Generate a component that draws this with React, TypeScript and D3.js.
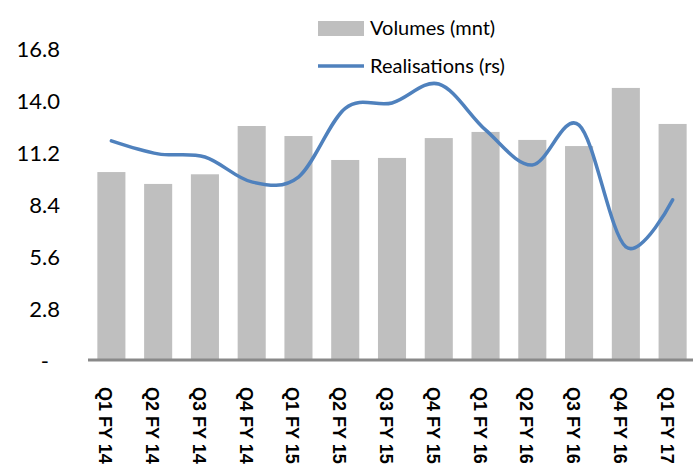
import * as d3 from "d3";

const quarters = [
  "Q1 FY 14", "Q2 FY 14", "Q3 FY 14", "Q4 FY 14",
  "Q1 FY 15", "Q2 FY 15", "Q3 FY 15", "Q4 FY 15",
  "Q1 FY 16", "Q2 FY 16", "Q3 FY 16", "Q4 FY 16", "Q1 FY 17",
];
const volumes = [10.12, 9.48, 10.0, 12.6, 12.06, 10.77, 10.88, 11.95, 12.28, 11.85, 11.52, 14.65, 12.71];
const realisations = [11.8, 11.1, 10.93, 9.59, 9.85, 13.55, 13.84, 14.86, 12.39, 10.5, 12.65, 6.09, 8.62];
const yTicks = [0, 2.8, 5.6, 8.4, 11.2, 14.0, 16.8];

const width = 693;
const height = 473;
const left = 88;
const right = 696;
const top = 48;
const bottom = 360;

const bodyFont = "Lato, 'Open Sans', sans-serif";

export default function App() {
  const x = d3.scaleBand(quarters, [left, right]).paddingInner(0.4).paddingOuter(0.2);
  const y = d3.scaleLinear([0, 16.8], [bottom, top]);
  const cx = (q: string) => (x(q) ?? 0) + x.bandwidth() / 2;

  const line = d3
    .line<number>((_, i) => cx(quarters[i]), (d) => y(d))
    .curve(d3.curveCardinal.tension(0));

  return (
    <svg
      width={width}
      height={height}
      style={{ position: "absolute", left: 0, top: 0, background: "#fff" }}
    >
      {/* bars */}
      <g fill="#bfbfbf">
        {volumes.map((v, i) => (
          <rect
            key={quarters[i]}
            x={x(quarters[i])}
            y={y(v)}
            width={x.bandwidth()}
            height={y(0) - y(v)}
          />
        ))}
      </g>

      {/* baseline */}
      <line x1={left} x2={width} y1={y(0)} y2={y(0)} stroke="#898989" strokeWidth={3} />

      {/* y tick labels */}
      <g fontFamily={bodyFont} fontSize={22} fill="#000">
        {yTicks.map((t) => (
          <text
            key={t}
            x={t === 0 ? 49 : 60}
            y={y(t)}
            textAnchor="end"
            dominantBaseline="central"
          >
            {t === 0 ? "-" : t.toFixed(1)}
          </text>
        ))}
      </g>

      {/* x labels, rotated */}
      <g fontFamily="'Liberation Sans', Arial, sans-serif" fontWeight="bold" fontSize={18} fill="#000">
        {quarters.map((q) => (
          <text
            key={q}
            transform={`translate(${cx(q) - 6},387) rotate(90)`}
            dominantBaseline="central"
          >
            {q}
          </text>
        ))}
      </g>

      {/* realisations line */}
      <path
        d={line(realisations) ?? undefined}
        fill="none"
        stroke="#4f81bd"
        strokeWidth={3.5}
        strokeLinecap="round"
      />

      {/* legend */}
      <g fontFamily={bodyFont} fontSize={20} fill="#000">
        <rect x={318} y={21} width={46} height={15} fill="#bfbfbf" />
        <text x={370} y={35}>Volumes (mnt)</text>
        <line x1={318} x2={364} y1={66} y2={66} stroke="#4f81bd" strokeWidth={3.5} />
        <text x={370} y={73}>Realisations (rs)</text>
      </g>
    </svg>
  );
}
